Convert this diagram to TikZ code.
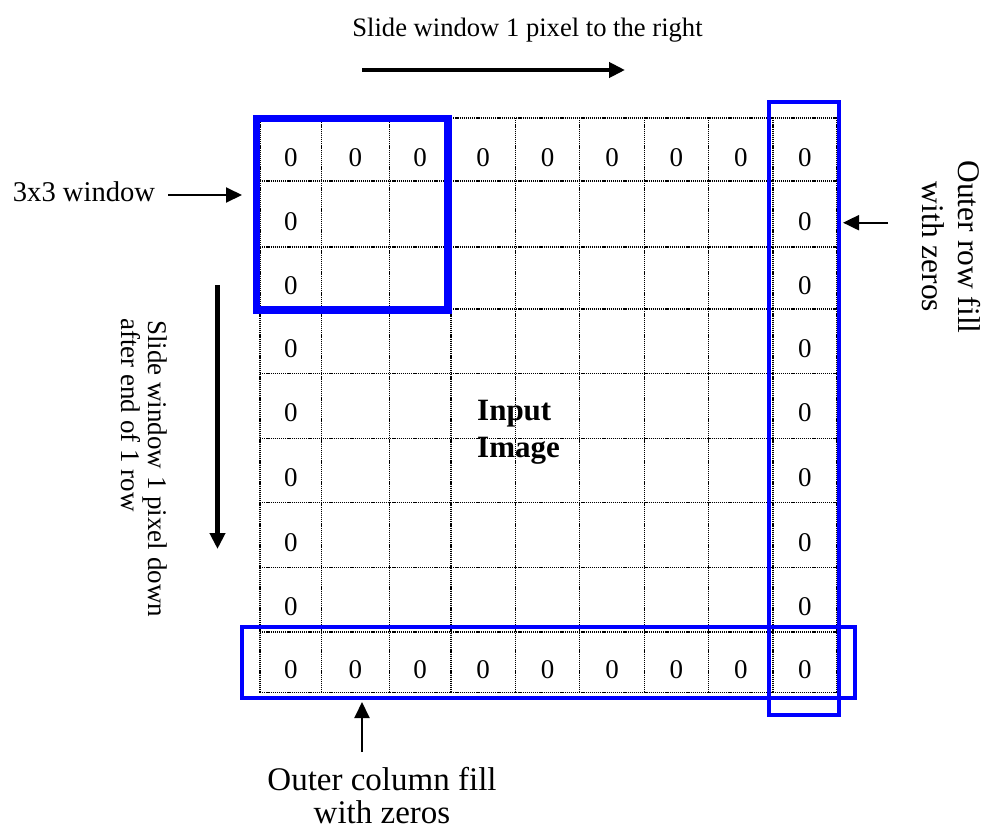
\documentclass[tikz,border=0pt]{standalone}
\usepackage{fontspec}
\setmainfont{Liberation Serif}
\usetikzlibrary{arrows.meta}
\definecolor{winblue}{RGB}{0,0,255}
\begin{document}
\begin{tikzpicture}[x=1pt,y=-1pt,
  gridline/.style={line width=1.3pt, dash pattern=on 1.2pt off 0.9pt},
  bluebox/.style={draw=winblue, line width=4pt},
  zero/.style={font=\fontsize{27}{27}\selectfont, anchor=base, inner sep=0pt},
  lbl/.style={inner sep=0pt},
  bigarrow/.style={line width=4.5pt, -{Triangle[length=16pt,width=15pt]}},
  thinarrow/.style={line width=2pt, -{Triangle[length=16pt,width=15pt]}}]
\useasboundingbox (0,0) rectangle (987,830);
% grid
\foreach \x in {260,321.5,389.3,451,515.4,579.8,644.2,708.6,773,836.5}
  \draw[gridline] (\x,118) -- (\x,692.5);
\foreach \y in {118,181,247,309,373.6,438.2,502.8,567.4,632,692.5}
  \draw[gridline] (260,\y) -- (836.5,\y);
% zeros: top and bottom rows
\foreach \c/\x in {1/290.75,2/355.4,3/420.15,4/483.2,5/547.6,6/612,7/676.4,8/740.8,9/804.75}{
  \node[zero] (zt\c) at (\x,166) {0};
  \node[zero] (zb\c) at (\x,678) {0};
}
% zeros: left and right columns
\foreach \r/\y in {2/214,3/278,4/341.3,5/405.9,6/470.5,7/535.1,8/599.7}{
  \node[zero] (zl\r) at (290.75,\y+16) {0};
  \node[zero] (zr\r) at (804.75,\y+16) {0};
}
% input image label
\node[lbl, anchor=base west, font=\fontsize{31}{31}\selectfont\bfseries] (in1) at (477,420) {Input};
\node[lbl, anchor=base west, font=\fontsize{31}{31}\selectfont\bfseries] (in2) at (477,457) {Image};
% blue boxes
\draw[draw=winblue, line width=7.5pt] (256.7,118.7) rectangle (448,310);
\draw[bluebox] (768.7,102) rectangle (838.7,715);
\draw[bluebox] (242,627) rectangle (855.3,698.3);
% top label and arrow
\node[lbl, anchor=base, font=\fontsize{26.6}{26.6}\selectfont] (toplbl) at (527.5,36) {Slide window 1 pixel to the right};
\coordinate (ra0) at (362,70);
\coordinate (ra1) at (625,70);
\draw[bigarrow] (ra0) -- (ra1);
% 3x3 window label
\node[lbl, anchor=base west, font=\fontsize{28.6}{28.6}\selectfont] (winlbl) at (12.7,201) {3x3 window};
\coordinate (wa0) at (168,195);
\coordinate (wa1) at (242,195);
\draw[thinarrow] (wa0) -- (wa1);
% left down arrow and label
\coordinate (da0) at (217.5,285);
\coordinate (da1) at (217.5,549);
\draw[bigarrow] (da0) -- (da1);
\node[lbl, anchor=base west, rotate=-90, font=\fontsize{27}{27}\selectfont] (dl1) at (148,320) {Slide window 1 pixel down};
\node[lbl, anchor=base west, rotate=-90, font=\fontsize{27}{27}\selectfont] (dl2) at (121,318) {after end of 1 row};
% right label and arrow
\node[lbl, anchor=base, rotate=-90, font=\fontsize{31.5}{31.5}\selectfont] (rl1) at (958,247) {Outer row fill};
\node[lbl, anchor=base, rotate=-90, font=\fontsize{31.5}{31.5}\selectfont] (rl2) at (922,247) {with zeros};
\coordinate (ro0) at (888,222.7);
\coordinate (ro1) at (843,222.7);
\draw[thinarrow] (ro0) -- (ro1);
% bottom label and arrow
\node[lbl, anchor=base, font=\fontsize{33}{33}\selectfont] (bl1) at (382,790) {Outer column fill};
\node[lbl, anchor=base, font=\fontsize{33}{33}\selectfont] (bl2) at (382,823) {with zeros};
\coordinate (ba0) at (362,752);
\coordinate (ba1) at (362,702);
\draw[thinarrow] (ba0) -- (ba1);
\end{tikzpicture}
\end{document}
